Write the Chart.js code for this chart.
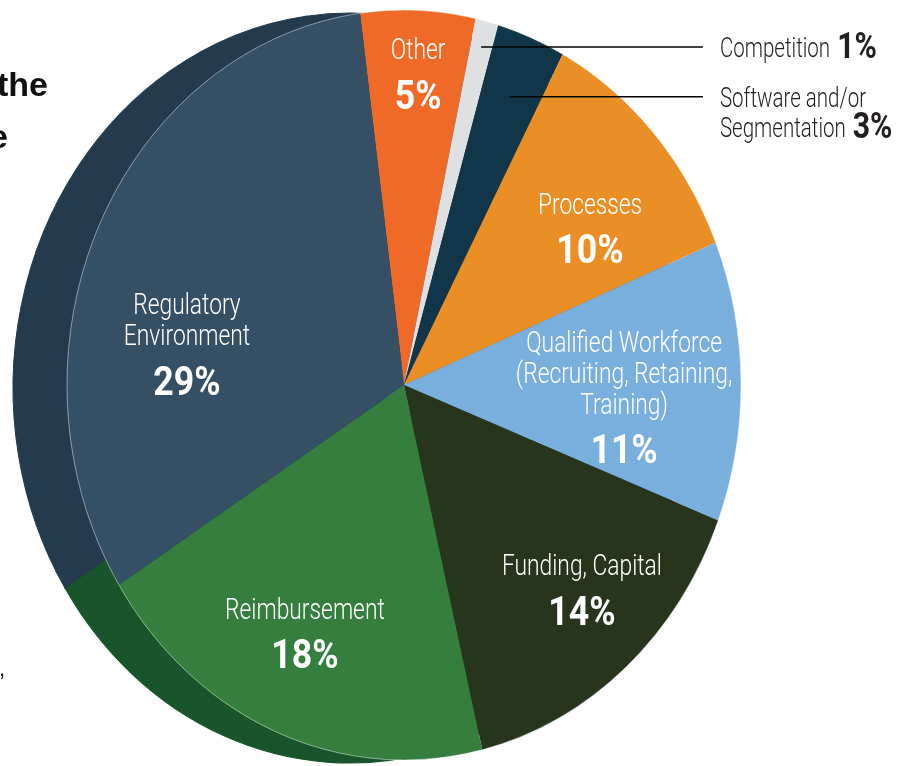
<!DOCTYPE html>
<html>
<head>
<meta charset="utf-8">
<script src="https://cdn.jsdelivr.net/npm/chart.js@4.4.1/dist/chart.umd.min.js"></script>
<style>
  html, body { margin: 0; padding: 0; background: #fff; }
  #wrap { position: relative; width: 898px; height: 766px; overflow: hidden; }
  #pieChart { position: absolute; left: 0; top: 0; }
  .cut { position: absolute; font-family: "Liberation Sans", Arial, sans-serif; font-weight: bold; color: #111; white-space: nowrap; }
</style>
</head>
<body>
<div id="wrap">
  <canvas id="pieChart" width="898" height="766"></canvas>
  <div class="cut" style="left:-3px; top:65px; font-size:34px;">the</div>
  <div class="cut" style="left:-11px; top:117px; font-size:34px;">e</div>
  <div class="cut" style="left:-1px; top:656px; font-size:22px; font-weight:normal;">,</div>
</div>
<script>
// slice data, clockwise from the top
const categories = ['Other', 'Competition', 'Software and/or Segmentation', 'Processes',
  'Qualified Workforce (Recruiting, Retaining, Training)', 'Funding, Capital',
  'Reimbursement', 'Regulatory Environment'];
const shares = [5, 1, 3, 10, 11, 14, 18, 29];
const sliceColors = ['#ef6a26', '#dfe0e2', '#11364a', '#e98f25', '#79afdc', '#26351c', '#357e3e', '#354f64'];
// side wall colours (only the left part of the wall shows)
const sideColors = ['#243a4d', '#243a4d', '#243a4d', '#243a4d', '#557fa3', '#18220f', '#18552a', '#243a4d'];
const insideText = [['Other'], null, null, ['Processes'],
  ['Qualified Workforce', '(Recruiting, Retaining,', 'Training)'],
  ['Funding, Capital'], ['Reimbursement'], ['Regulatory', 'Environment']];
const calloutText = [null, ['Competition'], ['Software and/or', 'Segmentation'], null, null, null, null, null];

// layout of the drawing (not data)
const STRETCH = 375 / 337;          // pie is a bit taller than wide
const SIDE_DX = -54, SIDE_DY = 3;    // 3D side wall offset
const labelAnchor = [[0.042, -0.827], null, null, [0.552, -0.416], [0.653, 0.035],
  [0.528, 0.549], [-0.294, 0.664], [-0.644, -0.107]];
const calloutStart = [null, 0.93, 0.83, null, null, null, null, null];
const FONT = 'Roboto, "Open Sans", sans-serif';

function pieGeom(chart) {
  const arcs = chart.getDatasetMeta(0).data;
  return { arcs, cx: arcs[0].x, cy: arcs[0].y, r: arcs[0].outerRadius };
}

// draw text squeezed horizontally to mimic a condensed face
function narrowText(ctx, text, x, y, sx, align) {
  ctx.save();
  ctx.translate(x, y);
  ctx.scale(sx, 1);
  ctx.textAlign = align;
  ctx.fillText(text, 0, 0);
  ctx.restore();
  return ctx.measureText(text).width * sx;
}

const pie3d = {
  id: 'pie3d',
  beforeDatasetsDraw(chart) {
    const ctx = chart.ctx;
    const { arcs, cx, cy } = pieGeom(chart);
    ctx.save();
    ctx.translate(cx, cy);
    ctx.scale(1, STRETCH);
    ctx.translate(-cx, -cy);
    // side wall: same slices, darker, shifted
    ctx.save();
    ctx.translate(SIDE_DX, SIDE_DY / STRETCH);
    arcs.forEach((a, i) => {
      ctx.beginPath();
      ctx.moveTo(a.x, a.y);
      ctx.arc(a.x, a.y, a.outerRadius, a.startAngle, a.endAngle);
      ctx.closePath();
      ctx.fillStyle = sideColors[i];
      ctx.strokeStyle = sideColors[i];
      ctx.lineWidth = 1;
      ctx.fill();
      ctx.stroke();
    });
    ctx.restore();
  },
  afterDatasetsDraw(chart) {
    const ctx = chart.ctx;
    const { arcs, cx, cy, r } = pieGeom(chart);
    // thin light rim on the front face
    ctx.beginPath();
    ctx.arc(cx, cy, r, 0, Math.PI * 2);
    ctx.lineWidth = 0.8;
    ctx.strokeStyle = 'rgba(255,255,255,0.55)';
    ctx.stroke();
    ctx.restore();

    ctx.save();
    ctx.textBaseline = 'middle';
    ctx.fillStyle = '#ffffff';
    arcs.forEach((a, i) => {
      const lines = insideText[i];
      if (!lines) return;
      const ax = cx + labelAnchor[i][0] * r;
      const ay = cy + labelAnchor[i][1] * r * STRETCH;
      const span = (lines.length - 1) * 31 + 46;
      let y = ay - span / 2;
      ctx.font = '300 30px ' + FONT;
      lines.forEach(t => { narrowText(ctx, t, ax, y, 0.76, 'center'); y += 31; });
      y += 16;
      ctx.font = 'bold 41px ' + FONT;
      narrowText(ctx, shares[i] + '%', ax, y, 0.87, 'center');
    });

    // callouts for the thin slices
    const lineEnd = cx + 0.887 * r;
    ctx.fillStyle = '#231f20';
    arcs.forEach((a, i) => {
      const lines = calloutText[i];
      if (!lines) return;
      const mid = (a.startAngle + a.endAngle) / 2;
      const sx = cx + Math.cos(mid) * r * calloutStart[i];
      const sy = cy + Math.sin(mid) * r * calloutStart[i] * STRETCH;
      ctx.beginPath();
      ctx.moveTo(sx, sy);
      ctx.lineTo(lineEnd, sy);
      ctx.lineWidth = 1.3;
      ctx.strokeStyle = '#000';
      ctx.stroke();
      let y = sy + 3;
      lines.forEach((t, k) => {
        ctx.font = '300 27px ' + FONT;
        const w = narrowText(ctx, t, lineEnd + 17, y, 0.76, 'left');
        if (k === lines.length - 1) {
          ctx.font = 'bold 36px ' + FONT;
          narrowText(ctx, shares[i] + '%', lineEnd + 17 + w + 7, y - 1, 0.84, 'left');
        }
        y += 30;
      });
    });
    ctx.restore();
  }
};

new Chart(document.getElementById('pieChart'), {
  type: 'pie',
  data: {
    labels: categories,
    datasets: [{
      data: shares,
      backgroundColor: sliceColors,
      borderWidth: 0,
      clip: false
    }]
  },
  options: {
    responsive: false,
    animation: false,
    events: [],
    rotation: -7.5,
    layout: { padding: { left: 67, right: 157, top: 48, bottom: 44 } },
    plugins: { legend: { display: false }, tooltip: { enabled: false } }
  },
  plugins: [pie3d]
});
</script>
</body>
</html>
